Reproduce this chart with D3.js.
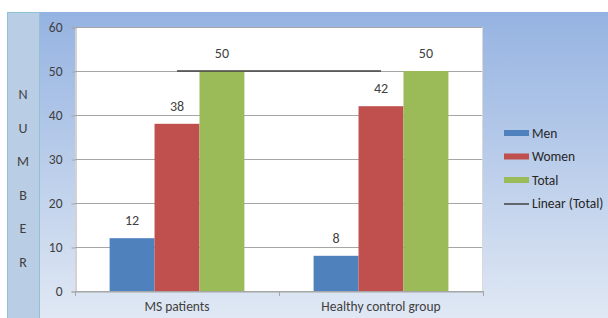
<!DOCTYPE html>
<html>
<head>
  <meta charset="utf-8">
  <script src="https://d3js.org/d3.v7.min.js"></script>
  <style>
    body { margin: 0; background: #fff; }
    text { font-family: Carlito, Calibri, "Liberation Sans", Arial, sans-serif; }
  </style>
</head>
<body>
  <div id="chart"></div>
  <script>
    // data
    var groups = ["MS patients", "Healthy control group"];
    var seriesNames = ["Men", "Women", "Total"];
    var men = [12, 8];
    var women = [38, 42];
    var total = [50, 50];
    var yTicks = [0, 10, 20, 30, 40, 50, 60];
    var sideLabel = ["N", "U", "M", "B", "E", "R"];

    var colors = ["#4f81bd", "#c0504d", "#9bbb59"];
    var width = 608, height = 318;
    var plot = { left: 75, right: 483, top: 27, bottom: 291 };
    var font = "Carlito, Calibri, 'Liberation Sans', Arial, sans-serif";

    var svg = d3.select("#chart").append("svg")
      .attr("width", width)
      .attr("height", height);

    var defs = svg.append("defs");
    var grad = defs.append("linearGradient")
      .attr("id", "bg").attr("x1", 0).attr("y1", 0).attr("x2", 0).attr("y2", 1);
    grad.append("stop").attr("offset", "0%").attr("stop-color", "#95b3e1");
    grad.append("stop").attr("offset", "100%").attr("stop-color", "#e0e8f4");

    svg.append("rect")
      .attr("x", 7).attr("y", 12)
      .attr("width", width - 7).attr("height", height - 12)
      .attr("fill", "url(#bg)");

    // left strip with the vertical title
    svg.append("rect")
      .attr("x", 7.5).attr("y", 12.5)
      .attr("width", 32).attr("height", height)
      .attr("fill", "#b9cde5")
      .attr("stroke", "#8cc4d6");

    svg.selectAll(".side")
      .data(sideLabel)
      .enter().append("text")
      .attr("x", 23)
      .attr("y", function(d, i) { return 94 + i * 33.6; })
      .attr("dy", "0.35em")
      .attr("text-anchor", "middle")
      .style("font-size", "14px")
      .style("fill", "#404040")
      .text(function(d) { return d; });

    var x0 = d3.scaleBand()
      .domain(groups)
      .range([plot.left, plot.right]);

    var x1 = d3.scaleBand()
      .domain(seriesNames)
      .range([0, x0.bandwidth()])
      .paddingOuter(0.77)
      .paddingInner(0);

    var y = d3.scaleLinear()
      .domain([0, 60])
      .range([plot.bottom, plot.top]);

    svg.append("rect")
      .attr("x", plot.left).attr("y", plot.top)
      .attr("width", plot.right - plot.left)
      .attr("height", plot.bottom - plot.top)
      .attr("fill", "#fff");

    // gridlines
    svg.selectAll(".grid")
      .data(yTicks)
      .enter().append("line")
      .attr("x1", plot.left).attr("x2", plot.right)
      .attr("y1", function(d) { return Math.round(y(d)) + 0.5; })
      .attr("y2", function(d) { return Math.round(y(d)) + 0.5; })
      .attr("stroke", "#a6a6a6");

    // y axis
    var yAxis = svg.append("g")
      .attr("transform", "translate(" + (plot.left + 0.5) + ",0.5)")
      .call(d3.axisLeft(y).tickValues(yTicks).tickSize(4).tickPadding(9));
    yAxis.select(".domain").attr("stroke", "#a6a6a6");
    yAxis.selectAll(".tick line").attr("stroke", "#a6a6a6");
    yAxis.selectAll(".tick text")
      .style("font-size", "13.5px")
      .style("fill", "#404040")
      .style("font-family", font);

    svg.append("line")
      .attr("x1", plot.right - 0.5).attr("x2", plot.right - 0.5)
      .attr("y1", plot.top).attr("y2", plot.bottom)
      .attr("stroke", "#d9d9d9");

    var rows = groups.map(function(g, i) {
      return { group: g, values: [men[i], women[i], total[i]] };
    });

    var gGroups = svg.selectAll(".grp")
      .data(rows)
      .enter().append("g")
      .attr("transform", function(d) { return "translate(" + x0(d.group) + ",0)"; });

    gGroups.selectAll("rect")
      .data(function(d) { return d.values.map(function(v, j) { return { name: seriesNames[j], value: v, j: j }; }); })
      .enter().append("rect")
      .attr("x", function(d) { return x1(d.name); })
      .attr("y", function(d) { return y(d.value); })
      .attr("width", x1.bandwidth())
      .attr("height", function(d) { return y(0) - y(d.value); })
      .attr("fill", function(d) { return colors[d.j]; });

    gGroups.selectAll(".val")
      .data(function(d) { return d.values.map(function(v, j) { return { name: seriesNames[j], value: v }; }); })
      .enter().append("text")
      .attr("x", function(d) { return x1(d.name) + x1.bandwidth() / 2; })
      .attr("y", function(d) { return y(d.value) - 18; })
      .attr("dy", "0.35em")
      .attr("text-anchor", "middle")
      .style("font-size", "14px")
      .style("fill", "#404040")
      .text(function(d) { return d.value; });

    // x axis
    var xAxis = svg.append("g")
      .attr("transform", "translate(0," + (plot.bottom + 0.5) + ")")
      .call(d3.axisBottom(x0).tickSize(0).tickPadding(10));
    xAxis.select(".domain").attr("stroke", "#a6a6a6");
    xAxis.selectAll(".tick text")
      .style("font-size", "13.5px")
      .style("fill", "#404040")
      .style("font-family", font);
    svg.selectAll(".xtick")
      .data([plot.left, x0(groups[1]), plot.right])
      .enter().append("line")
      .attr("x1", function(d) { return Math.round(d) + 0.5; })
      .attr("x2", function(d) { return Math.round(d) + 0.5; })
      .attr("y1", plot.bottom).attr("y2", plot.bottom + 5)
      .attr("stroke", "#a6a6a6");

    // linear trend of Total across groups
    var n = total.length, mx = (n - 1) / 2, my = d3.mean(total);
    var slope = d3.sum(total, function(v, i) { return (i - mx) * (v - my); }) /
      d3.sum(total, function(v, i) { return (i - mx) * (i - mx); });
    svg.append("line")
      .attr("x1", x0(groups[0]) + x0.bandwidth() / 2)
      .attr("x2", x0(groups[n - 1]) + x0.bandwidth() / 2)
      .attr("y1", y(my - slope * mx))
      .attr("y2", y(my + slope * (n - 1 - mx)))
      .attr("stroke", "#404040")
      .attr("stroke-width", 1.5);

    // legend
    var legend = svg.append("g").attr("transform", "translate(504,133)");
    var items = seriesNames.concat(["Linear (Total)"]);
    var li = legend.selectAll("g")
      .data(items)
      .enter().append("g")
      .attr("transform", function(d, i) { return "translate(0," + i * 23.5 + ")"; });
    li.each(function(d, i) {
      var g = d3.select(this);
      if (i < 3) {
        g.append("rect").attr("x", 0).attr("y", -3).attr("width", 25).attr("height", 6)
          .attr("fill", colors[i]);
      } else {
        g.append("line").attr("x1", 0).attr("x2", 25).attr("y1", 0.5).attr("y2", 0.5)
          .attr("stroke", "#404040").attr("stroke-width", 1.5);
      }
    });
    li.append("text")
      .attr("x", 28)
      .attr("dy", "0.35em")
      .style("font-size", "13.5px")
      .style("fill", "#262626")
      .text(function(d) { return d; });
  </script>
</body>
</html>
